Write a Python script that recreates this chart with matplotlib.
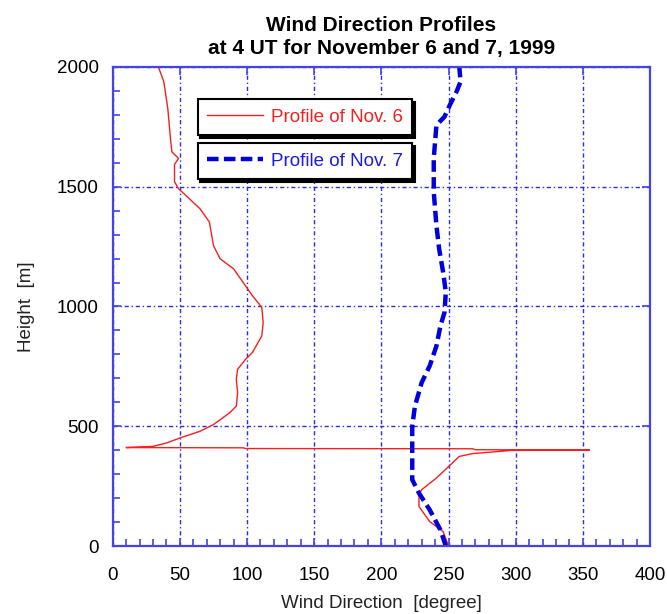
"""Wind direction profiles, 4 UT, November 6 and 7, 1999."""

import matplotlib

matplotlib.use("Agg")
import matplotlib.pyplot as plt
from matplotlib.ticker import MultipleLocator

plt.rcParams["font.family"] = ["Liberation Sans", "DejaVu Sans"]

# profile of Nov. 6 (height in m, wind direction in degree)
height_nov6 = [0, 60, 102, 165, 214, 235, 284, 326, 374, 386, 395, 399, 400,
               401, 402, 406, 407, 410, 411, 416, 430, 451, 479, 507, 556,
               584, 640, 696, 738, 780, 808, 877, 933, 996, 1045, 1101, 1157,
               1199, 1254, 1352, 1408, 1450, 1492, 1520, 1593, 1618, 1646,
               1701, 1827, 1939, 2000]
dir_nov6 = [250, 246, 236, 228, 228, 230, 241, 249, 258, 268, 288, 296, 330,
            355, 270, 268, 99, 97, 10, 30, 40, 50, 65, 75, 87,
            92, 93, 92, 93, 99, 104, 111, 112, 111, 104, 97, 90,
            80, 75, 72, 65, 57, 49, 46, 46, 49, 44,
            43, 41, 38, 34]

# profile of Nov. 7
height_nov7 = [0, 67, 151, 221, 277, 402, 500, 584, 682, 752, 835, 919, 975,
               1059, 1143, 1241, 1338, 1478, 1618, 1757, 1792, 1841, 1897,
               1939, 2000]
dir_nov7 = [248, 244, 236, 228, 223, 223, 223, 225, 230, 236, 241, 244, 247,
            248, 246, 243, 241, 239, 239, 241, 247, 251, 256, 259, 258]

axis_blue = "#4444e4"
grid_blue = "#2b2be0"

fig = plt.figure(figsize=(6.67, 6.14), dpi=100)
ax = fig.add_axes([0.169, 0.1107, 0.8055, 0.7803])

(l6,) = ax.plot(dir_nov6, height_nov6, color="#f42020", lw=1.0,
                label="Profile of Nov. 6")
(l7,) = ax.plot(dir_nov7, height_nov7, color="#0000dd", lw=3.2,
                dashes=(2.6, 1.2), label="Profile of Nov. 7")

ax.set_xlim(0, 400)
ax.set_ylim(0, 2000)
ax.xaxis.set_major_locator(MultipleLocator(50))
ax.xaxis.set_minor_locator(MultipleLocator(10))
ax.yaxis.set_major_locator(MultipleLocator(500))
ax.yaxis.set_minor_locator(MultipleLocator(100))

ax.grid(True, which="major", color=grid_blue, lw=1.0,
        linestyle=(0, (3, 2, 1, 2)))
for sp in ax.spines.values():
    sp.set_color(axis_blue)
    sp.set_linewidth(1.6)

ax.tick_params(which="major", direction="in", length=6, width=1.2,
               color=axis_blue, labelsize=13.5, top=True, right=True)
ax.tick_params(axis="x", which="major", pad=15)
ax.tick_params(axis="y", which="major", pad=10)
ax.tick_params(which="minor", direction="in", length=5, width=1.2,
               color=axis_blue)

ax.set_xlabel("Wind Direction  [degree]", fontsize=13.5, color="#222222",
              labelpad=8)
ax.set_ylabel("Height  [m]", fontsize=13.5, color="#222222", labelpad=16)
ax.set_title("Wind Direction Profiles\nat 4 UT for November 6 and 7, 1999",
             fontsize=15, fontweight="bold", pad=9, linespacing=1.3)

shadow = {"facecolor": "black", "edgecolor": "black", "alpha": 1.0}
leg_kw = dict(loc="upper left", fancybox=False, shadow=shadow,
              fontsize=13.5, borderpad=0.5, borderaxespad=0,
              handlelength=3.0, handletextpad=0.4, framealpha=1,
              edgecolor="black")

leg6 = ax.legend(handles=[l6], bbox_to_anchor=(0.158, 0.933), **leg_kw)
leg6.get_frame().set_linewidth(1.5)
leg6.get_texts()[0].set_color("#f42020")
ax.add_artist(leg6)

leg7 = ax.legend(handles=[l7], bbox_to_anchor=(0.158, 0.841), **leg_kw)
leg7.get_frame().set_linewidth(1.5)
leg7.get_texts()[0].set_color("#1a1ae6")

fig.savefig("out.png", dpi=100)
